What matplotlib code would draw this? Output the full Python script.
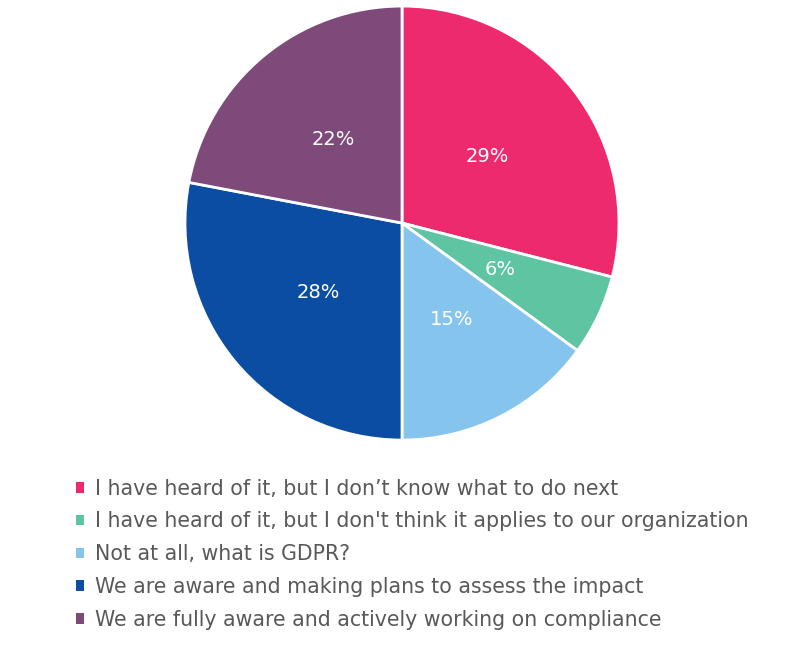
import matplotlib
matplotlib.use("Agg")
import matplotlib.pyplot as plt
from matplotlib.patches import Patch

labels = ["I have heard of it, but I don\u2019t know what to do next",
          "I have heard of it, but I don't think it applies to our organization",
          "Not at all, what is GDPR?",
          "We are aware and making plans to assess the impact",
          "We are fully aware and actively working on compliance"]
values = [29, 6, 15, 28, 22]
colors = ["#EE2A6F", "#5EC4A1", "#85C4EC", "#0A4DA2", "#7E4A7A"]

fig = plt.figure(figsize=(8, 6.58), dpi=100)
ax = fig.add_axes([0.5025 - 0.27125, 0.661 - 0.33, 0.5425, 0.66])
ax.pie(values, colors=colors, startangle=90, counterclock=False,
       autopct="%d%%", pctdistance=0.5,
       wedgeprops=dict(edgecolor="white", linewidth=2),
       textprops=dict(color="white", fontsize=14))
ax.set_xlim(-1, 1)
ax.set_ylim(-1, 1)
ax.set_aspect("equal")

handles = [Patch(facecolor=c, edgecolor="none") for c in colors]
leg = fig.legend(handles, labels, loc="upper left", bbox_to_anchor=(0.085, 0.285),
                 frameon=False, fontsize=14.8, handlelength=0.4, handleheight=0.4,
                 handletextpad=0.5, labelspacing=0.62, borderaxespad=0)
for t in leg.get_texts():
    t.set_color("#595959")
fig.savefig("out.png", dpi=100)
